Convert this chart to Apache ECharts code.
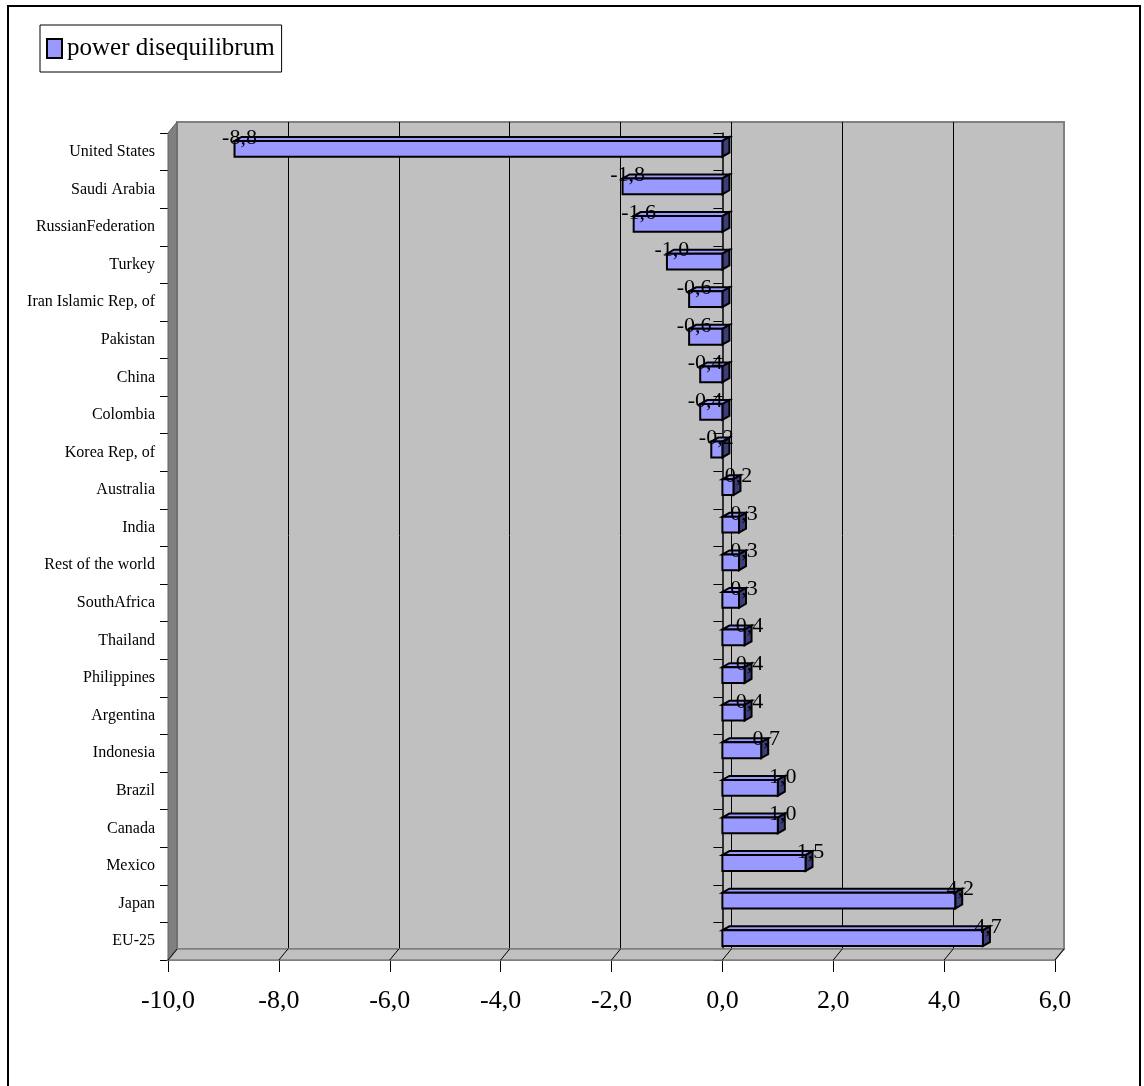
<!DOCTYPE html>
<html>
<head>
<meta charset="utf-8">
<script src="https://cdn.jsdelivr.net/npm/echarts@6/dist/echarts.min.js"></script>
<style>
  html, body { margin: 0; padding: 0; background: #fff; }
  #chart { width: 1144px; height: 1086px; }
</style>
</head>
<body>
<div id="chart"></div>
<script>
// Categories, top to bottom
const categories = [
  'United States', 'Saudi Arabia', 'RussianFederation', 'Turkey',
  'Iran Islamic Rep, of', 'Pakistan', 'China', 'Colombia', 'Korea Rep, of',
  'Australia', 'India', 'Rest of the world', 'SouthAfrica', 'Thailand',
  'Philippines', 'Argentina', 'Indonesia', 'Brazil', 'Canada', 'Mexico',
  'Japan', 'EU-25'
];
// Series values
const powerDisequilibrum = [
  -8.8, -1.8, -1.6, -1.0, -0.6, -0.6, -0.4, -0.4, -0.2,
  0.2, 0.3, 0.3, 0.3, 0.4, 0.4, 0.4, 0.7, 1.0, 1.0, 1.5, 4.2, 4.7
];
const seriesName = 'power disequilibrum';
// Value-axis tick range
const axisMin = -10;
const axisMax = 6;
const axisStep = 2;

// Layout of the pseudo-3D box: front plane and depth offset of the back wall
const FRONT = { left: 168, top: 133, right: 1055, bottom: 960 };
const DEPTH = { dx: 9, dy: -11 };
const FONT = 'Liberation Serif';
const W = 1144, H = 1086;

const fmt = v => v.toFixed(1).replace('.', ',');

const chart = echarts.init(document.getElementById('chart'), null, { renderer: 'canvas' });

function renderBar(params, api) {
  const idx = api.value(1);
  const v = api.value(0);
  const pz = api.coord([0, idx]);
  const pv = api.coord([v, idx]);
  const band = api.size([0, 1])[1];
  const c = pz[1];
  const top = c - band * 0.29;
  const bot = c + band * 0.13;
  const xl = Math.min(pz[0], pv[0]);
  const xr = Math.max(pz[0], pv[0]);
  const dx = 7, dy = -4;
  const line = { stroke: '#000', lineWidth: 2, lineJoin: 'miter' };
  return {
    type: 'group',
    children: [
      {
        type: 'polygon',
        shape: { points: [[xl, top], [xr, top], [xr + dx, top + dy], [xl + dx, top + dy]] },
        style: Object.assign({ fill: '#9999FF' }, line)
      },
      {
        type: 'polygon',
        shape: { points: [[xr, top], [xr + dx, top + dy], [xr + dx, bot + dy], [xr, bot]] },
        style: Object.assign({ fill: '#3D3D7A' }, line)
      },
      {
        type: 'rect',
        shape: { x: xl, y: top, width: xr - xl, height: bot - top },
        style: Object.assign({ fill: '#9999FF' }, line)
      },
      {
        type: 'text',
        z2: 10,
        style: {
          text: fmt(v),
          x: pv[0] + 5,
          y: c - band * 0.37,
          align: 'center',
          verticalAlign: 'middle',
          fill: '#000',
          font: '22px "' + FONT + '"'
        }
      }
    ]
  };
}

const option = {
  backgroundColor: '#fff',
  animation: false,
  legend: {
    left: 40,
    top: 25,
    data: [{ name: seriesName, icon: 'rect' }],
    itemWidth: 15,
    itemHeight: 19,
    itemGap: 0,
    itemStyle: { color: '#9999FF', borderColor: '#000', borderWidth: 2 },
    backgroundColor: '#fff',
    borderColor: '#000',
    borderWidth: 1,
    padding: [11, 7, 11, 6],
    textStyle: { fontFamily: FONT, fontSize: 25, color: '#000' }
  },
  grid: [
    {
      left: FRONT.left, top: FRONT.top,
      width: FRONT.right - FRONT.left, height: FRONT.bottom - FRONT.top
    },
    {
      show: true,
      left: FRONT.left + DEPTH.dx, top: FRONT.top + DEPTH.dy,
      width: FRONT.right - FRONT.left, height: FRONT.bottom - FRONT.top,
      backgroundColor: '#C0C0C0',
      borderColor: '#808080',
      borderWidth: 2
    }
  ],
  xAxis: [
    {
      type: 'value', gridIndex: 0,
      min: axisMin, max: axisMax, interval: axisStep,
      axisLine: { show: true, onZero: false, lineStyle: { color: '#808080', width: 2 } },
      axisTick: { show: true, length: 12, lineStyle: { color: '#000', width: 1 } },
      axisLabel: {
        formatter: fmt, margin: 28,
        fontFamily: FONT, fontSize: 26, color: '#000'
      },
      splitLine: { show: false }
    },
    {
      type: 'value', gridIndex: 1,
      min: axisMin, max: axisMax, interval: axisStep,
      axisLine: { show: false },
      axisTick: { show: false },
      axisLabel: { show: false },
      splitLine: {
        show: true, showMinLine: false, showMaxLine: false,
        lineStyle: { color: '#000', width: 1 }
      }
    }
  ],
  yAxis: [
    {
      type: 'category', gridIndex: 0, data: categories, inverse: true,
      position: 'left',
      axisLine: { show: true, onZero: false, lineStyle: { color: '#000', width: 1 } },
      axisTick: { show: true, length: 8, lineStyle: { color: '#000' } },
      axisLabel: { margin: 13, fontFamily: FONT, fontSize: 16, color: '#000' },
      splitLine: { show: false }
    },
    {
      type: 'category', gridIndex: 0, data: categories, inverse: true,
      position: 'right',
      axisLine: { show: true, onZero: true, lineStyle: { color: '#000', width: 1.5 } },
      axisTick: { show: true, inside: true, length: 9, lineStyle: { color: '#000' } },
      axisLabel: { show: false },
      splitLine: { show: false }
    },
    {
      type: 'category', gridIndex: 1, data: categories, inverse: true,
      show: false
    }
  ],
  series: [
    {
      name: seriesName,
      type: 'custom',
      xAxisIndex: 0,
      yAxisIndex: 0,
      itemStyle: { color: '#9999FF' },
      clip: false,
      z: 5,
      encode: { x: 0, y: 1 },
      renderItem: renderBar,
      data: powerDisequilibrum.map((v, i) => [v, i])
    }
  ]
};

chart.setOption(option);

// Side wall, floor, floor tick slants and outer frame
const tickValues = [];
for (let v = axisMin; v <= axisMax; v += axisStep) tickValues.push(v);
const floorTicks = tickValues.map(v => {
  const x = chart.convertToPixel({ xAxisIndex: 0 }, v);
  return {
    type: 'line', z: 1,
    shape: { x1: x, y1: FRONT.bottom, x2: x + DEPTH.dx, y2: FRONT.bottom + DEPTH.dy },
    style: { stroke: '#000', lineWidth: 1 }
  };
});

chart.setOption({
  graphic: [
    {
      type: 'polygon', z: 1,
      shape: { points: [
        [FRONT.left, FRONT.top], [FRONT.left + DEPTH.dx, FRONT.top + DEPTH.dy],
        [FRONT.left + DEPTH.dx, FRONT.bottom + DEPTH.dy], [FRONT.left, FRONT.bottom]
      ] },
      style: { fill: '#808080', stroke: '#606060', lineWidth: 1 }
    },
    {
      type: 'polygon', z: 1,
      shape: { points: [
        [FRONT.left, FRONT.bottom], [FRONT.left + DEPTH.dx, FRONT.bottom + DEPTH.dy],
        [FRONT.right + DEPTH.dx, FRONT.bottom + DEPTH.dy], [FRONT.right, FRONT.bottom]
      ] },
      style: { fill: '#C0C0C0', stroke: '#808080', lineWidth: 1.5 }
    }
  ].concat(floorTicks).concat([
    {
      type: 'rect', z: 100,
      shape: { x: 8, y: 6, width: W - 12, height: H + 20 },
      style: { fill: 'none', stroke: '#000', lineWidth: 2 }
    }
  ])
});
</script>
</body>
</html>
